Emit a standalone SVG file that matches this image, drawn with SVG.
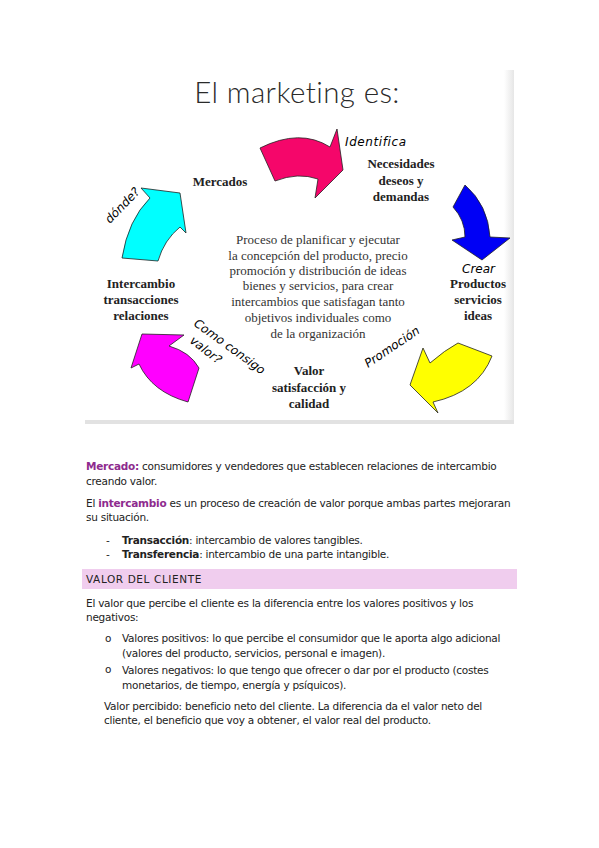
<svg xmlns="http://www.w3.org/2000/svg" width="599" height="848" viewBox="0 0 599 848">
<defs>
<linearGradient id="shadowR" x1="0" x2="1" y1="0" y2="0">
<stop offset="0" stop-color="#ffffff"/>
<stop offset="1" stop-color="#e6e6e6"/>
</linearGradient>
</defs>
<style>
.arrow{stroke:#222;stroke-width:0.8;stroke-linejoin:miter}
.lbl{font-family:"Liberation Serif",serif;font-weight:bold;font-size:13px;fill:#222;text-anchor:middle}
.para{font-family:"Liberation Serif",serif;font-size:13px;fill:#333;text-anchor:middle}
.hand{font-family:"DejaVu Sans",sans-serif;font-style:italic;font-size:12px;fill:#000}
.doc{font-family:"DejaVu Sans",sans-serif;font-size:10.5px;letter-spacing:-0.25px;fill:#222}
.hl{fill:#8e2b8e;font-weight:bold}
.b{font-weight:bold}
</style>
<rect width="599" height="848" fill="#ffffff"/>
<g id="picture">
<rect x="85" y="70" width="429" height="354" fill="#ffffff"/>
<rect x="504" y="70" width="10" height="354" fill="url(#shadowR)"/>
<rect x="85" y="420" width="429" height="4" fill="#e2e2e2"/>
<text x="297" y="103" text-anchor="middle" font-family="Lato, 'Open Sans', sans-serif" font-weight="300" font-size="29.5" letter-spacing="0.4" fill="#2a2a2a" style="font-variant-ligatures:none">El marketing es:</text>
</g>
<g id="connectors">
<path id="arrow-pink" class="arrow" fill="#f5066a" d="M260,148 Q300,128 330,147 L337,129 L343,170 L315,198 L318,179 Q298,172 275,181 Z"/>
<path id="arrow-blue" class="arrow" fill="#0000f5" d="M453,207 L465,185 Q488,205 490,237 L510,238 L482,260 L452,240 L465,237 Q465,220 453,207 Z"/>
<path id="arrow-yellow" class="arrow" fill="#ffff00" d="M458,343 L492,356 Q478,392 433,402 L438,413 L410,385 L423,348 L430,363 Q445,350 458,343 Z"/>
<path id="arrow-magenta" class="arrow" fill="#ff00ff" d="M142,334 L184,335 L169,346 Q190,352 199,368 L188,402 Q152,392 139,364 L131,368 Z"/>
<path id="arrow-cyan" class="arrow" fill="#00ffff" d="M141,188 L180,193 L186,233 L180,227 Q164,240 158,261 L122,258 Q128,220 150,198 Z"/>
</g>
<g id="node-mercados"><text class="lbl" x="220" y="186">Mercados</text></g>
<g id="node-necesidades">
<text class="lbl" x="401" y="168">Necesidades</text>
<text class="lbl" x="401" y="185">deseos y</text>
<text class="lbl" x="401" y="201">demandas</text>
</g>
<g id="node-productos">
<text class="lbl" x="478" y="288">Productos</text>
<text class="lbl" x="478" y="304">servicios</text>
<text class="lbl" x="478" y="320">ideas</text>
</g>
<g id="node-valor">
<text class="lbl" x="309" y="375">Valor</text>
<text class="lbl" x="309" y="392">satisfacción y</text>
<text class="lbl" x="309" y="408">calidad</text>
</g>
<g id="node-intercambio">
<text class="lbl" x="141" y="288">Intercambio</text>
<text class="lbl" x="141" y="304">transacciones</text>
<text class="lbl" x="141" y="320">relaciones</text>
</g>
<g id="node-center">
<text class="para" x="318" y="244">Proceso de planificar y ejecutar</text>
<text class="para" x="318" y="260">la concepción del producto, precio</text>
<text class="para" x="318" y="275">promoción y distribución de ideas</text>
<text class="para" x="318" y="290">bienes y servicios, para crear</text>
<text class="para" x="318" y="306">intercambios que satisfagan tanto</text>
<text class="para" x="318" y="322">objetivos individuales como</text>
<text class="para" x="318" y="338">de la organización</text>
</g>
<g id="handwriting">
<text class="hand" x="345" y="146" font-size="15" letter-spacing="0.6">Identifica</text>
<text class="hand" x="462" y="273" font-size="10">Crear</text>
<text class="hand" transform="translate(368,368) rotate(-34)" font-size="13">Promoción</text>
<text class="hand" transform="translate(193,325) rotate(36)" font-size="12">Como consigo</text>
<text class="hand" transform="translate(189,342) rotate(38)" font-size="12">valor?</text>
<text class="hand" transform="translate(110,224) rotate(-46)" font-size="13">dónde?</text>
</g>
<g id="document">
<text class="doc" x="86" y="470"><tspan class="hl">Mercado:</tspan> consumidores y vendedores que establecen relaciones de intercambio</text>
<text class="doc" x="86" y="485">creando valor.</text>
<text class="doc" x="86" y="507">El <tspan class="hl">intercambio</tspan> es un proceso de creación de valor porque ambas partes mejoraran</text>
<text class="doc" x="86" y="521">su situación.</text>
<text class="doc" x="106" y="544">-</text>
<text class="doc" x="122" y="544"><tspan class="b">Transacción</tspan>: intercambio de valores tangibles.</text>
<text class="doc" x="106" y="558">-</text>
<text class="doc" x="122" y="558"><tspan class="b">Transferencia</tspan>: intercambio de una parte intangible.</text>
<rect x="82" y="569" width="435" height="20" fill="#f0cdee"/>
<text class="doc" x="86" y="583" style="letter-spacing:0.6px">VALOR DEL CLIENTE</text>
<text class="doc" x="86" y="607">El valor que percibe el cliente es la diferencia entre los valores positivos y los</text>
<text class="doc" x="86" y="621">negativos:</text>
<text class="doc" x="105" y="642" font-size="8" fill="#555">o</text>
<text class="doc" x="122" y="642">Valores positivos: lo que percibe el consumidor que le aporta algo adicional</text>
<text class="doc" x="122" y="657">(valores del producto, servicios, personal e imagen).</text>
<text class="doc" x="105" y="673" font-size="8" fill="#555">o</text>
<text class="doc" x="122" y="674">Valores negativos: lo que tengo que ofrecer o dar por el producto (costes</text>
<text class="doc" x="122" y="689">monetarios, de tiempo, energía y psíquicos).</text>
<text class="doc" x="104" y="710">Valor percibido: beneficio neto del cliente. La diferencia da el valor neto del</text>
<text class="doc" x="104" y="724">cliente, el beneficio que voy a obtener, el valor real del producto.</text>
</g>
</svg>
